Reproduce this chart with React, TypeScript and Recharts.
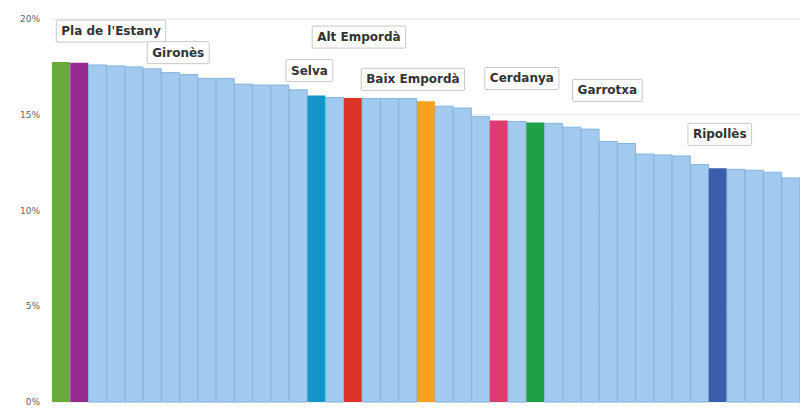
import React from "react";
import { BarChart, Bar, XAxis, YAxis, CartesianGrid, Cell, LabelList } from "recharts";

const comarques: string[] = [
  "Pla de l'Estany", "Gironès", "C3", "C4", "C5", "C6", "C7", "C8", "C9", "C10",
  "C11", "C12", "C13", "C14", "Selva", "C16", "Alt Empordà", "C18", "C19", "C20",
  "Baix Empordà", "C22", "C23", "C24", "Cerdanya", "C26", "Garrotxa", "C28", "C29", "C30",
  "C31", "C32", "C33", "C34", "C35", "C36", "Ripollès", "C38", "C39", "C40", "C41",
];

const values: number[] = [
  17.75, 17.72, 17.6, 17.55, 17.5, 17.4, 17.2, 17.1, 16.9, 16.9,
  16.6, 16.55, 16.55, 16.3, 16.0, 15.9, 15.87, 15.85, 15.85, 15.85,
  15.7, 15.45, 15.35, 14.9, 14.7, 14.65, 14.6, 14.55, 14.35, 14.25,
  13.6, 13.5, 12.95, 12.9, 12.85, 12.4, 12.2, 12.15, 12.1, 12.0, 11.7,
];

const highlightColors: Record<string, string> = {
  "Pla de l'Estany": "#69aa3c",
  "Gironès": "#962a8e",
  "Selva": "#1496c8",
  "Alt Empordà": "#dc3228",
  "Baix Empordà": "#f8a020",
  "Cerdanya": "#dc3c6e",
  "Garrotxa": "#1ea046",
  "Ripollès": "#3a5eaa",
};

// label box placement relative to bar (style only)
const labelOffsets: Record<string, [number, number]> = {
  "Pla de l'Estany": [50, 20],
  "Gironès": [99, -1],
  "Selva": [-7, 14],
  "Alt Empordà": [6, 50],
  "Baix Empordà": [-13, 11],
  "Cerdanya": [23, 31],
  "Garrotxa": [72, 21],
  "Ripollès": [2, 23],
};

const yTicks: number[] = [0, 5, 10, 15, 20];

const data = comarques.map((name, i) => ({ name, value: values[i] }));

const LIGHT = "#a2caee";
const LIGHT_STROKE = "#86b4de";
const FONT = "bold 12px 'DejaVu Sans'";

let ctx: CanvasRenderingContext2D | null = null;
function measure(t: string): number {
  if (!ctx) {
    const c = document.createElement("canvas");
    ctx = c.getContext("2d");
  }
  if (!ctx) return t.length * 7.5;
  ctx.font = FONT;
  return ctx.measureText(t).width;
}

const BoxLabel = (props: any) => {
  const { x, y, width, value } = props;
  const off = labelOffsets[value as string];
  if (!off) return null;
  const cx = x + width / 2 + off[0];
  const bottom = y - off[1];
  const w = measure(value) + 10;
  const h = 22;
  return (
    <g>
      <rect x={cx - w / 2} y={bottom - h} width={w} height={h} fill="#ffffff" stroke="#c8c8c8" strokeWidth={1} rx={1} />
      <text x={cx} y={bottom - h / 2 + 4} textAnchor="middle" fontFamily="'DejaVu Sans'" fontWeight="bold" fontSize={12} fill="#333333">
        {value}
      </text>
    </g>
  );
};

export default function App() {
  return (
    <div style={{ position: "absolute", left: 0, top: 0, background: "#fff" }}>
      <BarChart
        width={800}
        height={410}
        data={data}
        margin={{ top: 19, right: 0, bottom: 8, left: 0 }}
        barCategoryGap={0}
      >
        <CartesianGrid vertical={false} stroke="#e6e6e6" />
        <XAxis dataKey="name" hide />
        <YAxis
          width={52}
          domain={[0, 20]}
          ticks={yTicks}
          tickFormatter={(v: number) => `${v}%`}
          axisLine={false}
          tickLine={false}
          tickMargin={6}
          tick={{ fontSize: 9, fill: "#666666", fontFamily: "'DejaVu Sans'" }}
        />
        <Bar dataKey="value" isAnimationActive={false}>
          {data.map((d) => {
            const c = highlightColors[d.name];
            return (
              <Cell
                key={d.name}
                fill={c || LIGHT}
                stroke={c ? "none" : LIGHT_STROKE}
                strokeWidth={c ? 0 : 1}
              />
            );
          })}
          <LabelList dataKey="name" content={<BoxLabel />} />
        </Bar>
      </BarChart>
    </div>
  );
}
